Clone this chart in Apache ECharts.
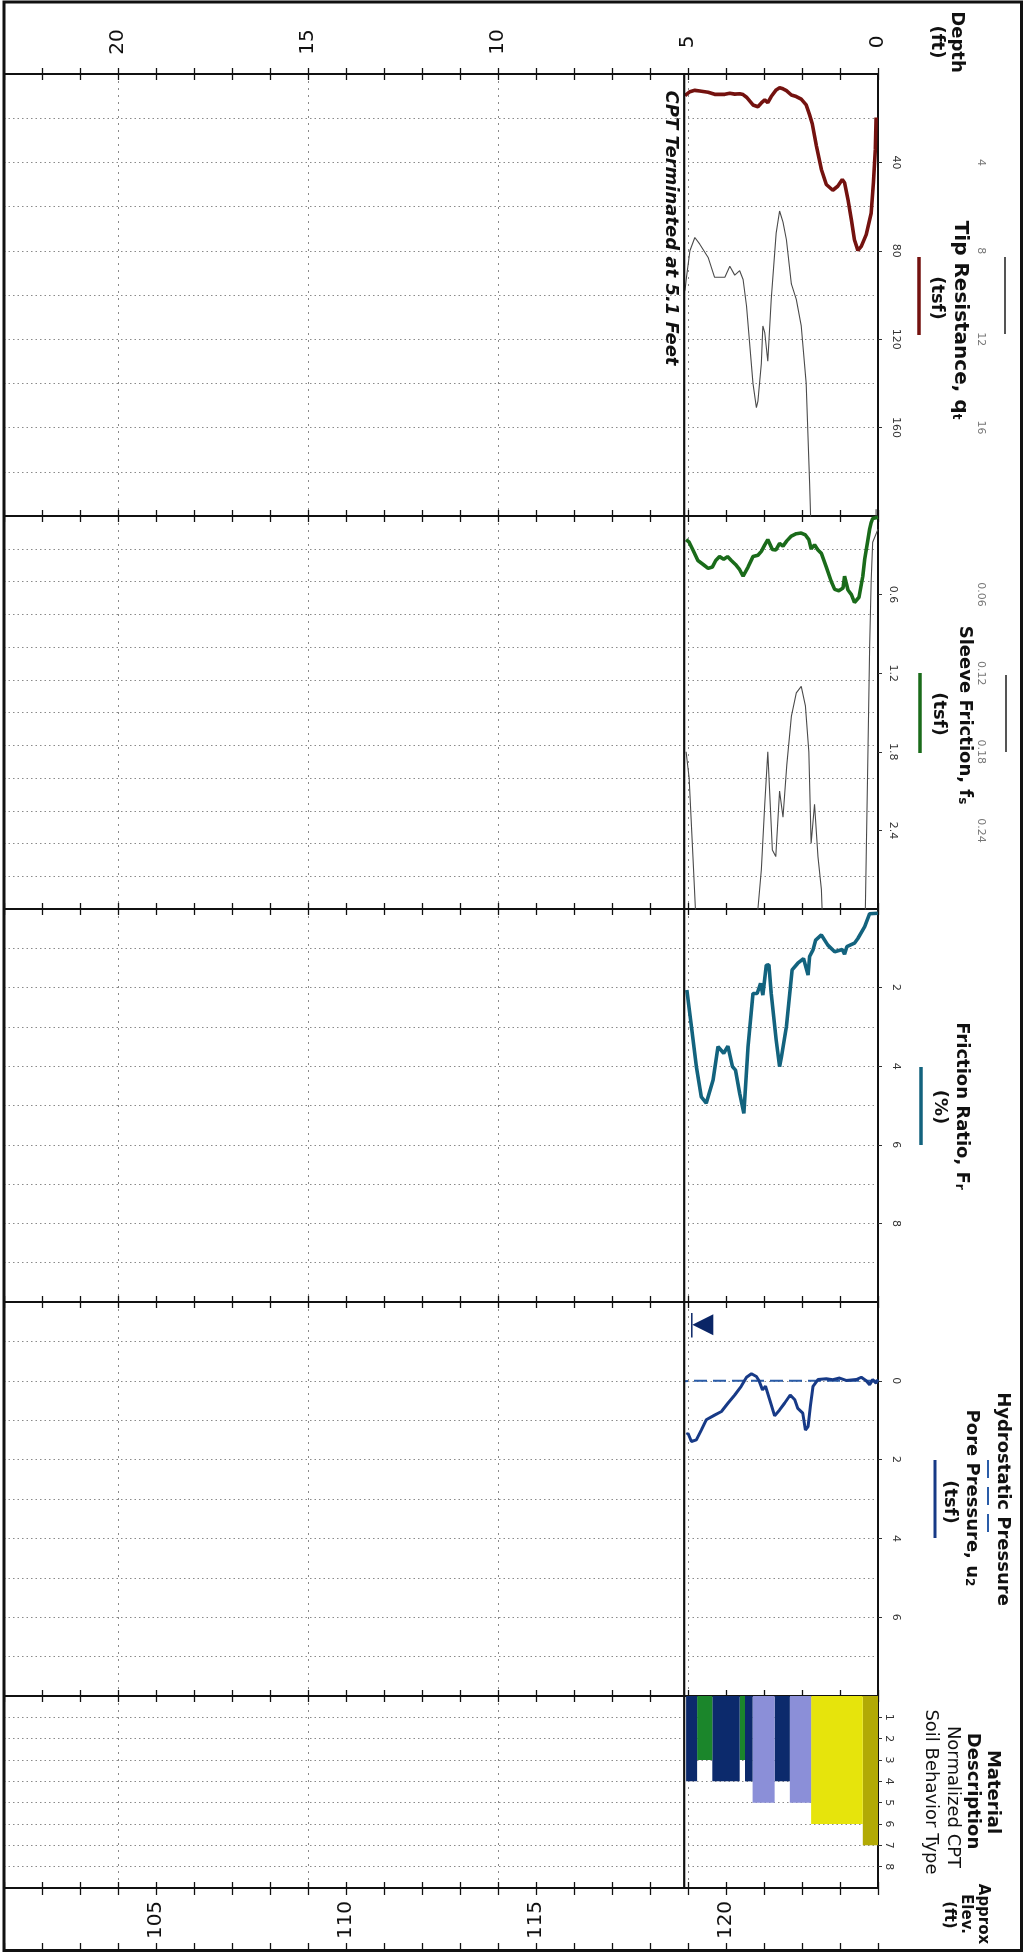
<!DOCTYPE html>
<html>
<head>
<meta charset="utf-8">
<script src="https://cdn.jsdelivr.net/npm/echarts@6/dist/echarts.min.js"></script>
<style>
html, body { margin: 0; padding: 0; background: #fff; }
#chart { width: 1024px; height: 1953px; }
</style>
</head>
<body>
<div id="chart"></div>
<script>
// tip resistance qt (tsf) vs depth (ft)
const qtDepth = [0.05, 0.07, 0.12, 0.18, 0.31, 0.44, 0.53, 0.62, 0.70, 0.79, 0.88, 0.94, 1.06, 1.19, 1.36, 1.49, 1.62, 1.73, 1.80, 1.89, 2.02, 2.15, 2.28, 2.41, 2.50, 2.59, 2.68, 2.81, 2.90, 2.98, 3.03, 3.07, 3.16, 3.20, 3.29, 3.46, 3.55, 3.64, 3.77, 3.90, 4.03, 4.30, 4.47, 4.69, 4.82, 4.95, 5.04, 5.08]
const qtTsf = [19.7, 34, 49, 63, 72.7, 78, 79.8, 75, 66, 56.8, 49.2, 47.7, 50.8, 52.6, 50, 43.2, 32.6, 22.5, 18.5, 14.0, 11.4, 10.2, 9.5, 7.5, 6.7, 6.2, 7.2, 10.2, 13.0, 11.7, 11.4, 13.1, 14.8, 15.1, 14.0, 10.5, 9.3, 8.9, 9.1, 8.7, 9.2, 9.2, 8.3, 7.7, 7.4, 8.0, 9.2, 9.8]

// sleeve friction fs (tsf)
const fsDepth = [0.0, 0.14, 0.18, 0.22, 0.27, 0.31, 0.35, 0.40, 0.50, 0.62, 0.70, 0.79, 0.88, 0.92, 1.03, 1.14, 1.23, 1.36, 1.49, 1.58, 1.67, 1.76, 1.82, 1.91, 2.02, 2.15, 2.28, 2.40, 2.50, 2.59, 2.69, 2.78, 2.90, 2.98, 3.07, 3.16, 3.29, 3.42, 3.55, 3.64, 3.75, 3.86, 3.96, 4.06, 4.17, 4.27, 4.36, 4.47, 4.60, 4.74, 4.87, 4.97, 5.05]
const fsTsf = [0.01, 0.02, 0.05, 0.10, 0.19, 0.26, 0.33, 0.46, 0.62, 0.66, 0.60, 0.565, 0.46, 0.55, 0.57, 0.56, 0.50, 0.39, 0.285, 0.26, 0.22, 0.25, 0.18, 0.145, 0.13, 0.135, 0.153, 0.19, 0.23, 0.21, 0.26, 0.255, 0.18, 0.22, 0.27, 0.30, 0.31, 0.39, 0.46, 0.41, 0.37, 0.34, 0.31, 0.33, 0.31, 0.34, 0.39, 0.40, 0.37, 0.34, 0.26, 0.20, 0.18]

// friction ratio Rf (%)
const rfDepth = [0.005, 0.22, 0.35, 0.53, 0.62, 0.82, 0.88, 0.94, 1.14, 1.32, 1.49, 1.64, 1.71, 1.80, 1.84, 1.96, 2.11, 2.26, 2.41, 2.54, 2.59, 2.68, 2.81, 2.87, 2.94, 3.03, 3.09, 3.18, 3.29, 3.42, 3.53, 3.64, 3.75, 3.83, 3.95, 4.06, 4.21, 4.34, 4.52, 4.65, 4.78, 4.91, 5.03]
const rfPct = [0.11, 0.12, 0.45, 0.75, 0.87, 0.96, 1.15, 1.03, 1.09, 0.92, 0.66, 0.79, 1.04, 1.21, 1.68, 1.26, 1.38, 1.55, 2.99, 3.76, 4.01, 3.33, 2.15, 1.42, 1.43, 2.19, 1.89, 2.15, 2.15, 3.50, 5.20, 4.69, 4.10, 4.01, 3.49, 3.67, 3.50, 4.35, 4.94, 4.78, 4.01, 2.99, 2.06]

// pore pressure u2 (tsf)
const u2Depth = [0.0, 0.05, 0.14, 0.22, 0.31, 0.44, 0.57, 0.84, 1.01, 1.19, 1.36, 1.58, 1.71, 1.78, 1.84, 1.91, 1.98, 2.11, 2.19, 2.31, 2.46, 2.59, 2.72, 2.85, 2.96, 3.04, 3.13, 3.20, 3.33, 3.46, 3.60, 3.77, 3.95, 4.12, 4.30, 4.52, 4.65, 4.78, 4.91, 5.00, 5.03]
const u2Tsf = [-0.03, 0.06, -0.03, 0.10, 0.0, -0.09, -0.03, -0.01, -0.07, -0.03, -0.05, -0.03, 0.14, 0.65, 1.16, 1.25, 0.82, 0.70, 0.48, 0.36, 0.57, 0.74, 0.89, 0.48, 0.14, 0.23, 0.0, -0.11, -0.18, -0.09, 0.14, 0.36, 0.57, 0.78, 0.87, 0.99, 1.25, 1.50, 1.54, 1.33, 1.37]

// hydrostatic pressure (tsf)
const hydroDepth = [0, 4.9, 5.1]
const hydroTsf = [0, 0, 0.01]

// normalized soil behavior type, by layer
const sbtTop = [0.00, 0.40, 1.76, 2.32, 2.72, 3.30, 3.50, 3.64, 4.36, 4.76]
const sbtBottom = [0.40, 1.76, 2.32, 2.72, 3.30, 3.50, 3.64, 4.36, 4.76, 5.05]
const sbtZone = [7, 6, 5, 4, 5, 4, 3, 4, 3, 4]

const depthLabels = [0, 5, 10, 15, 20]
const elevLabels = [105, 110, 115, 120]
const surfaceElev = 124
const termDepth = 5.1
const waterDepth = 4.9

const sbtColors = { 3: "#1b862b", 4: "#0c2a6c", 5: "#8b8fd8", 6: "#e6e40c", 7: "#b2aa05" }
const FONT = "DejaVu Sans"

const panels = [
    { top: 74, height: 442 },
    { top: 516, height: 393 },
    { top: 909, height: 393 },
    { top: 1302, height: 394 },
    { top: 1696, height: 192 },
    { top: 1888, height: 62 }
]

const grid = panels.map(p => ({
    left: 4, right: 146, top: p.top, height: p.height,
    containLabel: false, outerBoundsMode: "none"
}))

const black = "#111"
const tickStyle = { color: black, width: 1.3 }
const gridLine = { color: "#8a8a8a", width: 1, type: [1.5, 3] }

// depth axes
const xAxis = []
function depthAxis(g, pos, extra) {
    xAxis.push(Object.assign({
        gridIndex: g, type: "value", position: pos, min: 0, max: 23, interval: 1, inverse: true,
        axisLine: { show: true, onZero: false, lineStyle: { color: black, width: 2 } },
        axisTick: { show: true, inside: true, length: 6, lineStyle: tickStyle },
        axisLabel: { show: false },
        splitLine: { show: false }
    }, extra))
    return xAxis.length - 1
}

const xTop = []
for (let g = 0; g < 5; g++) {
    xTop.push(depthAxis(g, "top"))
    depthAxis(g, "bottom")
    depthAxis(g, "bottom", {
        interval: 5,
        axisLine: { show: false, onZero: false },
        axisTick: { show: false },
        splitLine: { show: true, lineStyle: { color: "#8a8a8a", width: 1, type: [2, 5] } }
    })
}
// depth labels above the first panel
depthAxis(0, "top", {
    axisTick: { show: true, inside: false, length: 6, lineStyle: tickStyle },
    axisLabel: {
        show: true, rotate: -90, align: "center", margin: 32, fontSize: 20, color: black, fontFamily: FONT,
        hideOverlap: false, showMaxLabel: false,
        formatter: v => depthLabels.includes(v) ? String(v) : ""
    }
})
// elevation strip
depthAxis(5, "top", {
    axisLine: { show: false, onZero: false },
    axisTick: { show: true, inside: true, length: 7, lineStyle: tickStyle },
    axisLabel: {
        show: true, inside: true, rotate: -90, align: "center", margin: 32, fontSize: 20, color: black, fontFamily: FONT,
        hideOverlap: false, showMaxLabel: false,
        formatter: v => elevLabels.includes(surfaceElev - v) ? String(surfaceElev - v) : ""
    }
})
depthAxis(5, "bottom", { axisTick: { show: true, inside: true, length: 7, lineStyle: tickStyle } })

// value axes (vertical on screen, read top to bottom)
const yAxis = []
function valAxis(g, min, max, interval, extra) {
    yAxis.push(Object.assign({
        gridIndex: g, type: "value", position: "right", inverse: true, min, max, interval,
        axisLine: { show: false, onZero: false },
        axisTick: { show: false },
        axisLabel: { show: false },
        splitLine: { show: false }
    }, extra))
    return yAxis.length - 1
}
const edgeLine = { show: true, onZero: false, lineStyle: { color: black, width: 2 } }
function labelled(margin, color, ticks) {
    return {
        axisTick: { show: ticks, length: 4, lineStyle: { color: "#333", width: 1 } },
        axisLabel: {
            show: true, rotate: -90, margin, fontSize: 11, color, fontFamily: FONT,
            showMinLabel: false, showMaxLabel: false, hideOverlap: false
        }
    }
}
const gridded = { axisLine: edgeLine, splitLine: { show: true, lineStyle: gridLine } }

const tipA = valAxis(0, 0, 200, 20, gridded)
valAxis(0, 0, 200, 40, labelled(12, "#333", true))
const tipC = valAxis(0, 0, 20, 4, labelled(97, "#777", false))

const slvA = valAxis(1, 0, 3, 0.25, gridded)
valAxis(1, 0, 3, 0.6, labelled(9, "#333", true))
const slvC = valAxis(1, 0, 0.3, 0.06, labelled(97, "#777", false))

const frA = valAxis(2, 0, 10, 1, gridded)
valAxis(2, 0, 10, 2, labelled(12, "#333", true))

const ppA = valAxis(3, -2, 8, 1, gridded)
valAxis(3, -2, 8, 2, labelled(12, "#333", true))

const sbtA = valAxis(4, 0, 9, 1, Object.assign({}, gridded, labelled(5, "#333", true)))
valAxis(5, 0, 1, 1, {})

const pairs = (a, b) => a.map((d, i) => [d, b[i]])

function trace(g, yi, depth, vals, color, width, extra) {
    return Object.assign({
        type: "line", xAxisIndex: xTop[g], yAxisIndex: yi, data: pairs(depth, vals),
        symbol: "none", showSymbol: false, clip: true, silent: true,
        lineStyle: { color, width }, z: 5
    }, extra)
}
// vertical "terminated" line in each panel
function termLine(g, yi) {
    const ax = yAxis[yi]
    return trace(g, yi, [termDepth, termDepth], [ax.min, ax.max], black, 2.2, { z: 6 })
}

const series = [
    trace(0, tipC, qtDepth, qtTsf, "#4a4a4a", 1.1, { z: 4 }),
    trace(0, tipA, qtDepth, qtTsf, "#74120f", 3.6),
    trace(1, slvC, fsDepth, fsTsf, "#4a4a4a", 1.1, { z: 4 }),
    trace(1, slvA, fsDepth, fsTsf, "#1a6b1a", 3.6),
    trace(2, frA, rfDepth, rfPct, "#13637e", 3.6),
    trace(3, ppA, hydroDepth, hydroTsf, "#2a5ca8", 2, { lineStyle: { color: "#2a5ca8", width: 2, type: [13, 6] } }),
    trace(3, ppA, u2Depth, u2Tsf, "#173a87", 3),
    trace(3, ppA, [waterDepth, waterDepth], [-1.72, -1.1], "#0a2566", 1.5),
    {
        type: "scatter", xAxisIndex: xTop[3], yAxisIndex: ppA, silent: true,
        data: [[waterDepth, -1.42]], symbol: "triangle", symbolSize: [21, 21],
        symbolRotate: 90, symbolOffset: [11, 0], itemStyle: { color: "#0a2566", opacity: 1 }, z: 6
    },
    {
        type: "custom", xAxisIndex: xTop[4], yAxisIndex: sbtA, silent: true, z: 3,
        data: sbtTop.map((t, i) => [t, sbtBottom[i], sbtZone[i]]),
        encode: { x: [0, 1], y: 2 },
        renderItem(params, api) {
            const p0 = api.coord([api.value(0), 0])
            const p1 = api.coord([api.value(1), api.value(2)])
            return {
                type: "rect",
                shape: { x: Math.min(p0[0], p1[0]), y: p0[1], width: Math.abs(p1[0] - p0[0]), height: p1[1] - p0[1] },
                style: { fill: sbtColors[api.value(2)] }
            }
        }
    },
    termLine(0, tipA), termLine(1, slvA), termLine(2, frA), termLine(3, ppA), termLine(4, sbtA)
]

// header texts, rotated to read top to bottom
function vText(x, y, text, size, weight, extra) {
    return {
        type: "text", x, y, rotation: -Math.PI / 2, silent: true, z: 50,
        style: Object.assign({
            text, fontSize: size, fontWeight: weight, fontFamily: FONT, fill: black,
            textAlign: "center", textVerticalAlign: "middle"
        }, extra)
    }
}
function vLine(x, y1, y2, color, width, dash) {
    return {
        type: "line", silent: true, z: 50, shape: { x1: x, y1, x2: x, y2 },
        style: { stroke: color, lineWidth: width, lineDash: dash || null }
    }
}
const sub = { rich: { s: { fontSize: 12, fontWeight: "bold", fontFamily: FONT, fill: black, verticalAlign: "bottom" } } }

const graphic = [
    vText(957, 42, "Depth", 18, "bold"),
    vText(937, 42, "(ft)", 18, "bold"),

    vLine(1005, 257, 334, "#555", 2),
    vText(960, 320, "Tip Resistance, q{s|t}", 20, "bold", sub),
    vText(937, 298, "(tsf)", 18, "bold"),
    vLine(919, 257, 335, "#74120f", 3.5),

    vLine(1006, 675, 752, "#555", 2),
    vText(965, 715, "Sleeve Friction, f{s|s}", 18, "bold", sub),
    vText(939, 714, "(tsf)", 18, "bold"),
    vLine(920, 673, 753, "#1a6b1a", 3.5),

    vText(962, 1106, "Friction Ratio, F{s|r}", 18, "bold", sub),
    vText(940, 1107, "(%)", 18, "bold"),
    vLine(921, 1067, 1145, "#13637e", 3.5),

    vText(1003, 1499, "Hydrostatic Pressure", 18, "bold"),
    vLine(988, 1460, 1537, "#2a5ca8", 2, [18, 9]),
    vText(972, 1498, "Pore Pressure, u{s|2}", 18, "bold", sub),
    vText(950, 1502, "(tsf)", 18, "bold"),
    vLine(935, 1460, 1538, "#173a87", 3),

    vText(993, 1792, "Material", 18, "bold"),
    vText(973, 1791, "Description", 18, "bold"),
    vText(953, 1797, "Normalized CPT", 18, "normal"),
    vText(931, 1792, "Soil Behavior Type", 18, "normal"),

    vText(983, 1914, "Approx", 15, "bold"),
    vText(966, 1914, "Elev.", 15, "bold"),
    vText(949, 1915, "(ft)", 15, "bold"),

    vText(671, 228, "CPT Terminated at 5.1 Feet", 18, "bold", { fontStyle: "italic" }),

    {
        type: "rect", silent: true, z: 60,
        shape: { x: 4, y: 2, width: 1017.5, height: 1948.5 },
        style: { fill: "none", stroke: black, lineWidth: 3 }
    }
]

const chart = echarts.init(document.getElementById("chart"))
chart.setOption({
    backgroundColor: "#fff",
    animation: false,
    grid, xAxis, yAxis, series, graphic
})
</script>
</body>
</html>
